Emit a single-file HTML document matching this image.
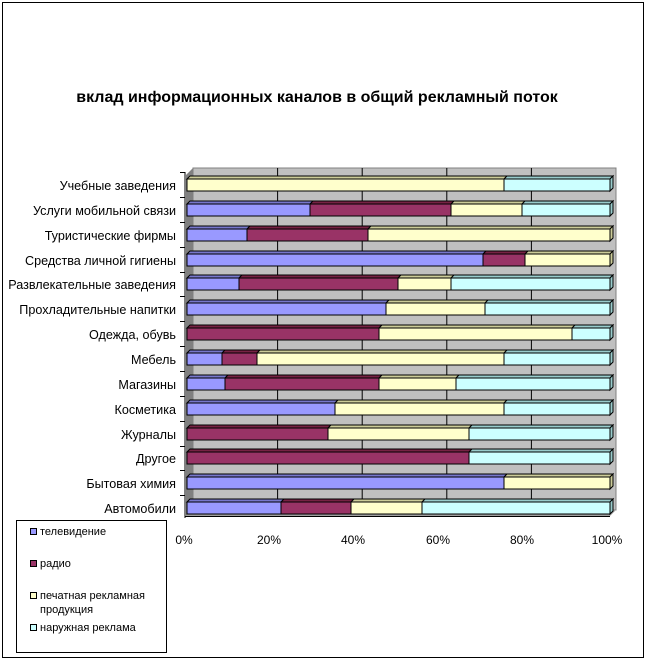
<!DOCTYPE html><html><head><meta charset="utf-8"><style>body{margin:0;background:#fff}svg{display:block}text{font-family:"Liberation Sans",Arial,sans-serif}</style></head><body>
<svg width="648" height="662" xmlns="http://www.w3.org/2000/svg">
<rect x="2.5" y="2.5" width="641" height="655" fill="#fff" stroke="#000"/>
<text x="317" y="102" font-size="16" font-weight="bold" text-anchor="middle">вклад информационных каналов в общий рекламный поток</text>
<polygon points="186,175 193,168 193,510 186,516" fill="#808080"/>
<rect x="193" y="168" width="423" height="342" fill="#c0c0c0" stroke="#808080"/>
<polygon points="186,516 193,510 616,510 610,516" fill="#a0a0a0"/>
<g stroke="#000">
<line x1="277.6" y1="168" x2="277.6" y2="510"/><line x1="362.2" y1="168" x2="362.2" y2="510"/><line x1="446.8" y1="168" x2="446.8" y2="510"/><line x1="531.4" y1="168" x2="531.4" y2="510"/>
<line x1="185" y1="172" x2="185" y2="518"/><line x1="185" y1="516.5" x2="610" y2="516.5"/>
<line x1="180" y1="172.5" x2="185" y2="172.5"/><line x1="180" y1="197.5" x2="185" y2="197.5"/><line x1="180" y1="222.5" x2="185" y2="222.5"/><line x1="180" y1="247.5" x2="185" y2="247.5"/><line x1="180" y1="272.5" x2="185" y2="272.5"/><line x1="180" y1="296.5" x2="185" y2="296.5"/><line x1="180" y1="321.5" x2="185" y2="321.5"/><line x1="180" y1="346.5" x2="185" y2="346.5"/><line x1="180" y1="371.5" x2="185" y2="371.5"/><line x1="180" y1="396.5" x2="185" y2="396.5"/><line x1="180" y1="421.5" x2="185" y2="421.5"/><line x1="180" y1="446.5" x2="185" y2="446.5"/><line x1="180" y1="470.5" x2="185" y2="470.5"/><line x1="180" y1="495.5" x2="185" y2="495.5"/>
</g>
<g stroke="#000" stroke-width="1">
<polygon points="187,179 190,176 507,176 504,179" fill="#cccc99"/><rect x="187" y="179" width="317" height="12" fill="#ffffcc"/>
<polygon points="504,179 507,176 613,176 610,179" fill="#99cccc"/><rect x="504" y="179" width="106" height="12" fill="#ccffff"/>
<polygon points="610,179 613,176 613,188 610,191" fill="#99cccc"/>
<polygon points="187,204 190,201 313,201 310,204" fill="#7777cc"/><rect x="187" y="204" width="123" height="12" fill="#9999ff"/>
<polygon points="310,204 313,201 454,201 451,204" fill="#772244"/><rect x="310" y="204" width="141" height="12" fill="#993366"/>
<polygon points="451,204 454,201 525,201 522,204" fill="#cccc99"/><rect x="451" y="204" width="71" height="12" fill="#ffffcc"/>
<polygon points="522,204 525,201 613,201 610,204" fill="#99cccc"/><rect x="522" y="204" width="88" height="12" fill="#ccffff"/>
<polygon points="610,204 613,201 613,213 610,216" fill="#99cccc"/>
<polygon points="187,229 190,226 250,226 247,229" fill="#7777cc"/><rect x="187" y="229" width="60" height="12" fill="#9999ff"/>
<polygon points="247,229 250,226 371,226 368,229" fill="#772244"/><rect x="247" y="229" width="121" height="12" fill="#993366"/>
<polygon points="368,229 371,226 613,226 610,229" fill="#cccc99"/><rect x="368" y="229" width="242" height="12" fill="#ffffcc"/>
<polygon points="610,229 613,226 613,238 610,241" fill="#cccc99"/>
<polygon points="187,254 190,251 486,251 483,254" fill="#7777cc"/><rect x="187" y="254" width="296" height="12" fill="#9999ff"/>
<polygon points="483,254 486,251 528,251 525,254" fill="#772244"/><rect x="483" y="254" width="42" height="12" fill="#993366"/>
<polygon points="525,254 528,251 613,251 610,254" fill="#cccc99"/><rect x="525" y="254" width="85" height="12" fill="#ffffcc"/>
<polygon points="610,254 613,251 613,263 610,266" fill="#cccc99"/>
<polygon points="187,278 190,275 242,275 239,278" fill="#7777cc"/><rect x="187" y="278" width="52" height="12" fill="#9999ff"/>
<polygon points="239,278 242,275 401,275 398,278" fill="#772244"/><rect x="239" y="278" width="159" height="12" fill="#993366"/>
<polygon points="398,278 401,275 454,275 451,278" fill="#cccc99"/><rect x="398" y="278" width="53" height="12" fill="#ffffcc"/>
<polygon points="451,278 454,275 613,275 610,278" fill="#99cccc"/><rect x="451" y="278" width="159" height="12" fill="#ccffff"/>
<polygon points="610,278 613,275 613,287 610,290" fill="#99cccc"/>
<polygon points="187,303 190,300 389,300 386,303" fill="#7777cc"/><rect x="187" y="303" width="199" height="12" fill="#9999ff"/>
<polygon points="386,303 389,300 488,300 485,303" fill="#cccc99"/><rect x="386" y="303" width="99" height="12" fill="#ffffcc"/>
<polygon points="485,303 488,300 613,300 610,303" fill="#99cccc"/><rect x="485" y="303" width="125" height="12" fill="#ccffff"/>
<polygon points="610,303 613,300 613,312 610,315" fill="#99cccc"/>
<polygon points="187,328 190,325 382,325 379,328" fill="#772244"/><rect x="187" y="328" width="192" height="12" fill="#993366"/>
<polygon points="379,328 382,325 575,325 572,328" fill="#cccc99"/><rect x="379" y="328" width="193" height="12" fill="#ffffcc"/>
<polygon points="572,328 575,325 613,325 610,328" fill="#99cccc"/><rect x="572" y="328" width="38" height="12" fill="#ccffff"/>
<polygon points="610,328 613,325 613,337 610,340" fill="#99cccc"/>
<polygon points="187,353 190,350 225,350 222,353" fill="#7777cc"/><rect x="187" y="353" width="35" height="12" fill="#9999ff"/>
<polygon points="222,353 225,350 260,350 257,353" fill="#772244"/><rect x="222" y="353" width="35" height="12" fill="#993366"/>
<polygon points="257,353 260,350 507,350 504,353" fill="#cccc99"/><rect x="257" y="353" width="247" height="12" fill="#ffffcc"/>
<polygon points="504,353 507,350 613,350 610,353" fill="#99cccc"/><rect x="504" y="353" width="106" height="12" fill="#ccffff"/>
<polygon points="610,353 613,350 613,362 610,365" fill="#99cccc"/>
<polygon points="187,378 190,375 228,375 225,378" fill="#7777cc"/><rect x="187" y="378" width="38" height="12" fill="#9999ff"/>
<polygon points="225,378 228,375 382,375 379,378" fill="#772244"/><rect x="225" y="378" width="154" height="12" fill="#993366"/>
<polygon points="379,378 382,375 459,375 456,378" fill="#cccc99"/><rect x="379" y="378" width="77" height="12" fill="#ffffcc"/>
<polygon points="456,378 459,375 613,375 610,378" fill="#99cccc"/><rect x="456" y="378" width="154" height="12" fill="#ccffff"/>
<polygon points="610,378 613,375 613,387 610,390" fill="#99cccc"/>
<polygon points="187,403 190,400 338,400 335,403" fill="#7777cc"/><rect x="187" y="403" width="148" height="12" fill="#9999ff"/>
<polygon points="335,403 338,400 507,400 504,403" fill="#cccc99"/><rect x="335" y="403" width="169" height="12" fill="#ffffcc"/>
<polygon points="504,403 507,400 613,400 610,403" fill="#99cccc"/><rect x="504" y="403" width="106" height="12" fill="#ccffff"/>
<polygon points="610,403 613,400 613,412 610,415" fill="#99cccc"/>
<polygon points="187,428 190,425 331,425 328,428" fill="#772244"/><rect x="187" y="428" width="141" height="12" fill="#993366"/>
<polygon points="328,428 331,425 472,425 469,428" fill="#cccc99"/><rect x="328" y="428" width="141" height="12" fill="#ffffcc"/>
<polygon points="469,428 472,425 613,425 610,428" fill="#99cccc"/><rect x="469" y="428" width="141" height="12" fill="#ccffff"/>
<polygon points="610,428 613,425 613,437 610,440" fill="#99cccc"/>
<polygon points="187,452 190,449 472,449 469,452" fill="#772244"/><rect x="187" y="452" width="282" height="12" fill="#993366"/>
<polygon points="469,452 472,449 613,449 610,452" fill="#99cccc"/><rect x="469" y="452" width="141" height="12" fill="#ccffff"/>
<polygon points="610,452 613,449 613,461 610,464" fill="#99cccc"/>
<polygon points="187,477 190,474 507,474 504,477" fill="#7777cc"/><rect x="187" y="477" width="317" height="12" fill="#9999ff"/>
<polygon points="504,477 507,474 613,474 610,477" fill="#cccc99"/><rect x="504" y="477" width="106" height="12" fill="#ffffcc"/>
<polygon points="610,477 613,474 613,486 610,489" fill="#cccc99"/>
<polygon points="187,502 190,499 284,499 281,502" fill="#7777cc"/><rect x="187" y="502" width="94" height="12" fill="#9999ff"/>
<polygon points="281,502 284,499 354,499 351,502" fill="#772244"/><rect x="281" y="502" width="70" height="12" fill="#993366"/>
<polygon points="351,502 354,499 425,499 422,502" fill="#cccc99"/><rect x="351" y="502" width="71" height="12" fill="#ffffcc"/>
<polygon points="422,502 425,499 613,499 610,502" fill="#99cccc"/><rect x="422" y="502" width="188" height="12" fill="#ccffff"/>
<polygon points="610,502 613,499 613,511 610,514" fill="#99cccc"/>
</g>
<g font-size="12.6" text-anchor="end">
<text x="176" y="190">Учебные заведения</text>
<text x="176" y="215">Услуги мобильной связи</text>
<text x="176" y="240">Туристические фирмы</text>
<text x="176" y="265">Средства личной гигиены</text>
<text x="176" y="289">Развлекательные заведения</text>
<text x="176" y="314">Прохладительные напитки</text>
<text x="176" y="339">Одежда, обувь</text>
<text x="176" y="364">Мебель</text>
<text x="176" y="389">Магазины</text>
<text x="176" y="414">Косметика</text>
<text x="176" y="439">Журналы</text>
<text x="176" y="463">Другое</text>
<text x="176" y="488">Бытовая химия</text>
<text x="176" y="513">Автомобили</text>
</g>
<g font-size="12" text-anchor="middle">
<text x="184" y="544">0%</text><text x="269" y="544">20%</text><text x="353" y="544">40%</text><text x="438" y="544">60%</text><text x="522" y="544">80%</text><text x="607" y="544">100%</text>
</g>
<rect x="16.5" y="520.5" width="150" height="132" fill="#fff" stroke="#000"/>
<g font-size="11">
<rect x="30.5" y="528.5" width="6" height="6" fill="#9999ff" stroke="#000"/><text x="40" y="535">телевидение</text>
<rect x="30.5" y="560.5" width="6" height="6" fill="#993366" stroke="#000"/><text x="40" y="567">радио</text>
<rect x="30.5" y="592.5" width="6" height="6" fill="#ffffcc" stroke="#000"/><text x="40" y="599">печатная рекламная</text><text x="40" y="613">продукция</text>
<rect x="30.5" y="624.5" width="6" height="6" fill="#ccffff" stroke="#000"/><text x="40" y="631">наружная реклама</text>
</g>
</svg></body></html>
